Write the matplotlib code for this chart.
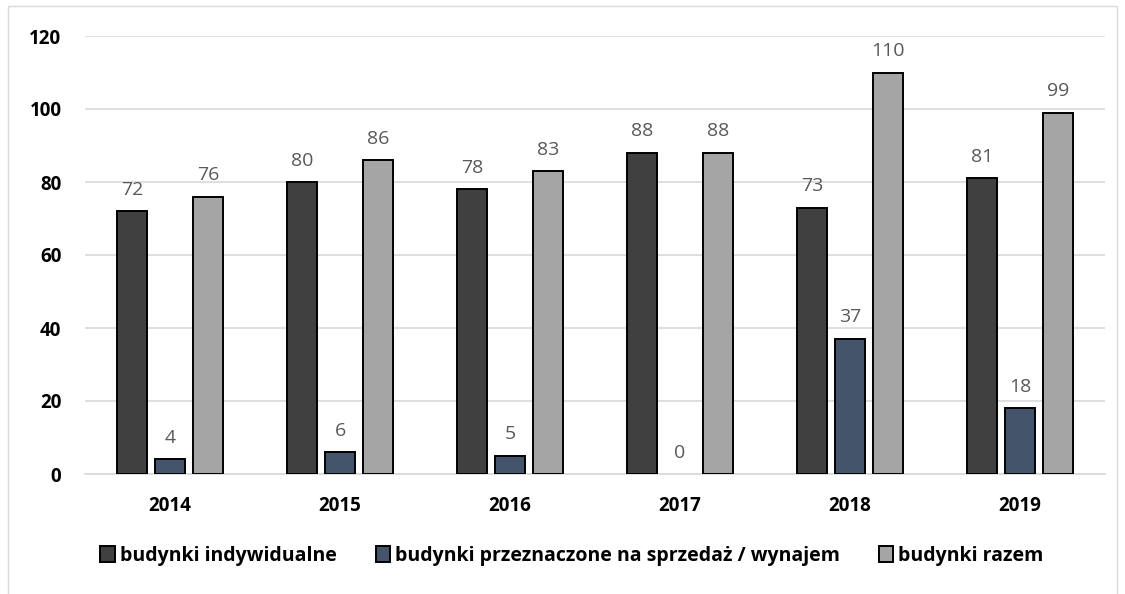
import matplotlib.pyplot as plt
import matplotlib.patches as mpatches
import numpy as np

years = ['2014', '2015', '2016', '2017', '2018', '2019']
indywidualne = [72, 80, 78, 88, 73, 81]
sprzedaz = [4, 6, 5, 0, 37, 18]
razem = [76, 86, 83, 88, 110, 99]

series = [
    ('budynki indywidualne', indywidualne, '#404040'),
    ('budynki przeznaczone na sprzedaż / wynajem', sprzedaz, '#44546A'),
    ('budynki razem', razem, '#A5A5A5'),
]

plt.rcParams['font.family'] = ['Open Sans', 'DejaVu Sans']

fig = plt.figure(figsize=(11.25, 5.94), dpi=100)
ax = fig.add_axes([85 / 1125, 1 - 474 / 594, 1020 / 1125, 438 / 594])

# thin outer frame like the original chart box
fig.patches.append(mpatches.Rectangle((8 / 1125, -0.01), 1109 / 1125, 1 - 6 / 594 + 0.01,
                                      transform=fig.transFigure, fill=False,
                                      edgecolor='#D9D9D9', linewidth=1))

x = np.arange(len(years))
width = 0.18
step = 0.2235
handles = []
for i, (name, vals, color) in enumerate(series):
    pos = x + (i - 1) * step
    bars = ax.bar(pos, vals, width, color=color, edgecolor='black', linewidth=1.4,
                  zorder=3, label=name)
    handles.append(bars)
    for b, p, v in zip(bars, pos, vals):
        if v == 0:
            b.set_linewidth(0)
        ax.annotate(str(v), (p, v), xytext=(0, 9), textcoords='offset points',
                    ha='center', va='bottom', fontsize=14, color='#595959')

ax.set_xlim(-0.5, len(years) - 0.5)
ax.set_ylim(0, 120)
ax.set_yticks(range(0, 121, 20))
ax.set_xticks(x)
ax.set_xticklabels(years)
ax.yaxis.grid(True, color='#D9D9D9', linewidth=1.2, zorder=0)
ax.set_axisbelow(True)
for s in ['top', 'right', 'left']:
    ax.spines[s].set_visible(False)
ax.spines['bottom'].set_color('#D9D9D9')
ax.spines['bottom'].set_linewidth(1.2)
ax.tick_params(axis='both', length=0, labelsize=13.5)
ax.tick_params(axis='x', pad=16)
ax.tick_params(axis='y', pad=17)
for lab in ax.get_xticklabels() + ax.get_yticklabels():
    lab.set_fontweight('bold')

leg = fig.legend(handles=handles, loc='center', bbox_to_anchor=(572 / 1125, 1 - 556 / 594),
                 ncol=3, frameon=False, fontsize=14, handlelength=0.75,
                 handleheight=0.9, handletextpad=0.25, columnspacing=2.0)
for t in leg.get_texts():
    t.set_fontweight('bold')

fig.savefig('out.png', dpi=100)
